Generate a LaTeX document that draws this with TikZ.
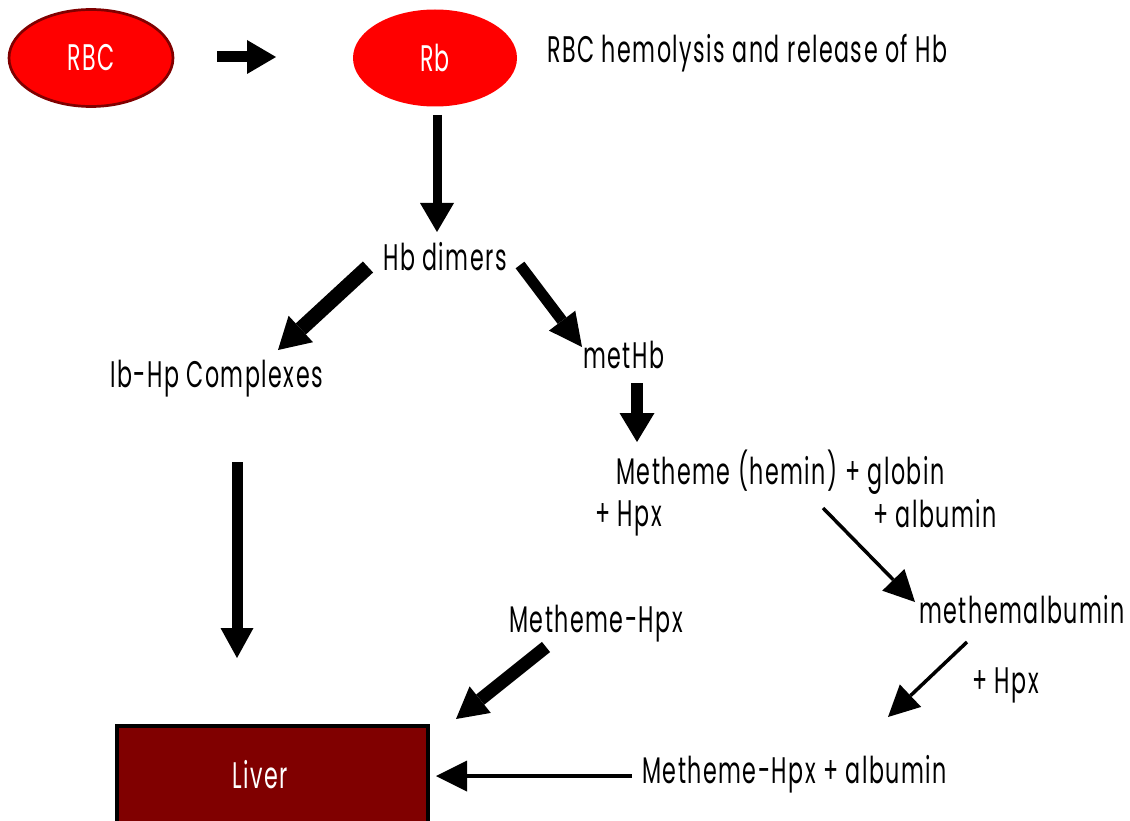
\documentclass[tikz,border=0pt]{standalone}
\usepackage{fontspec}
\setmainfont[FakeStretch=0.6,LetterSpace=4]{Poppins}
\usetikzlibrary{arrows.meta,shapes.geometric}
\definecolor{bloodred}{HTML}{FF0000}
\definecolor{darkmaroon}{HTML}{800000}
\tikzset{
  txt/.style={font=\fontsize{37}{40}\selectfont, inner sep=0pt, anchor=base west},
  cell/.style={ellipse, fill=bloodred, minimum width=164pt, minimum height=97pt,
    inner sep=0pt, text=white, font=\fontsize{37}{40}\selectfont},
  fat/.style args={#1/#2/#3}{line width=#1pt,
    -{Triangle[length=#2pt,width=#3pt,line width=0pt]}},
  slim/.style={line width=3.5pt, -{Triangle[length=31pt,width=31pt,line width=0pt]}},
}
\begin{document}
\begin{tikzpicture}[x=1pt,y=-1pt]
\useasboundingbox (0,0) rectangle (1130,821);

% cells
\node[cell, draw=darkmaroon, line width=2.7pt] (rbc) at (91,58) {RBC};
\node[cell] (rb) at (435,58) {Rb};
\node[txt] (lysis) at (547,63) {RBC hemolysis and release of Hb};

% intermediate species
\node[txt] (dimers) at (383,270) {Hb dimers};
\node[txt] (complex) at (110,387) {Ib-Hp Complexes};
\node[txt] (methb) at (583,368) {metHb};
\node[txt] (hemin) at (616,484) {Metheme (hemin) + globin};
\node[txt] (hpxa) at (595,526) {+ Hpx};
\node[txt] (albu) at (873,527) {+ albumin};
\node[txt] (malb) at (919,623) {methemalbumin};
\node[txt] (hpxb) at (972,693) {+ Hpx};
\node[txt] (mhpx) at (509,632) {Metheme-Hpx};
\node[txt] (mhpxa) at (642,783) {Metheme-Hpx + albumin};

% liver
\node[draw=black, fill=darkmaroon, line width=4pt, minimum width=311pt,
  minimum height=100pt, inner sep=0pt] (liver) at (272.5,776) {};
\node[txt, anchor=base, text=white] (livertxt) at (260,788) {Liver};

% arrow end points
\coordinate (a1s) at (217,57);   \coordinate (a1e) at (276,57);
\coordinate (a2s) at (437,115);  \coordinate (a2e) at (437,232);
\coordinate (a3s) at (368,267);  \coordinate (a3e) at (278,350);
\coordinate (a4s) at (520,265);  \coordinate (a4e) at (582,347);
\coordinate (a5s) at (637,383);  \coordinate (a5e) at (637,442);
\coordinate (a6s) at (237,462);  \coordinate (a6e) at (237,658);
\coordinate (a7s) at (823,508);  \coordinate (a7e) at (915,602);
\coordinate (a8s) at (967,642);  \coordinate (a8e) at (888,717);
\coordinate (a9s) at (546,647);  \coordinate (a9e) at (456,719);
\coordinate (a10s) at (632,776); \coordinate (a10e) at (436,776);

% connectors
\draw[fat=11/29/34] (a1s) -- (a1e);
\draw[fat=9/29/34] (a2s) -- (a2e);
\draw[fat=15/31/36] (a3s) -- (a3e);
\draw[fat=11/33/33] (a4s) -- (a4e);
\draw[fat=12/29/35] (a5s) -- (a5e);
\draw[fat=11/30/33] (a6s) -- (a6e);
\draw[slim] (a7s) -- (a7e);
\draw[slim] (a8s) -- (a8e);
\draw[fat=13/31/34] (a9s) -- (a9e);
\draw[slim] (a10s) -- (a10e);
\end{tikzpicture}
\end{document}
